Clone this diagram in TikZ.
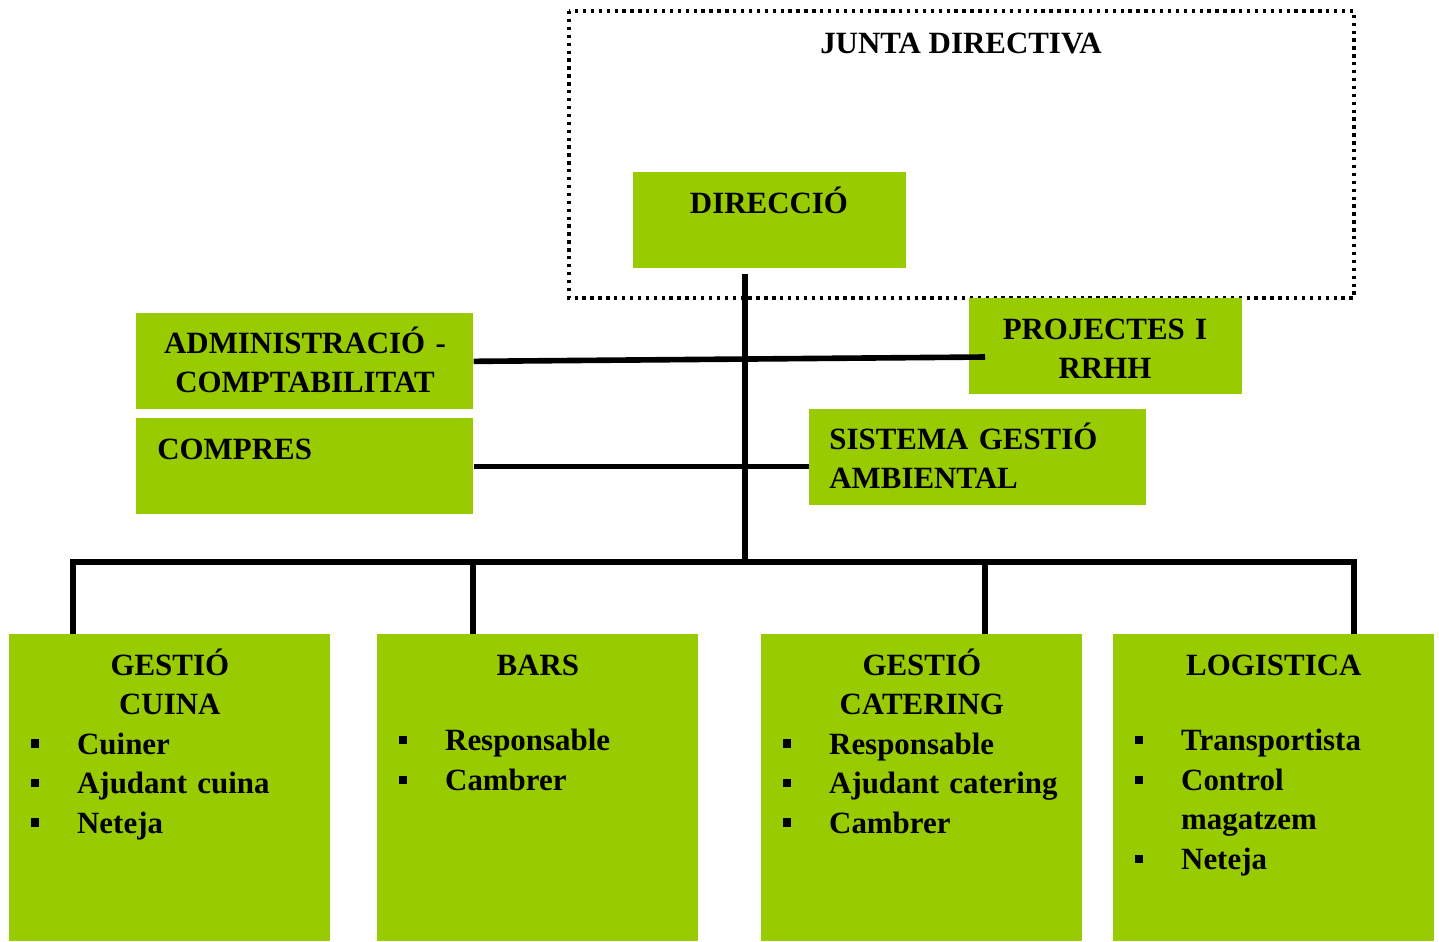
\documentclass[tikz,border=0pt]{standalone}
\usepackage{fontspec}
\setmainfont{Liberation Serif}
\usetikzlibrary{calc}

\definecolor{leaf}{HTML}{99CC00}
\tikzset{
  orgbox/.style={fill=leaf, inner sep=0pt, anchor=north west},
  lbl/.style={font=\bfseries\fontsize{17.6}{22.5}\selectfont, inner sep=0pt},
  conn/.style={line width=3.2pt},
  frame/.style={line width=1.9pt, dash pattern=on 1.9pt off 2.6pt},
}
% bullet item inside the bottom boxes
\newcommand{\bul}[1]{\par\noindent\hspace*{12.3pt}\rule[3.6pt]{4.8pt}{4.8pt}\hspace*{21.5pt}#1}

\begin{document}
\begin{tikzpicture}[x=0.02cm, y=-0.02cm]
  \useasboundingbox (0,0) rectangle (1439,941);

  % Junta directiva
  \draw[frame] (569,11) rectangle (1354,298);
  \node[lbl, anchor=base] (juntatxt) at (961,53) {JUNTA DIRECTIVA};

  % Boxes
  \node[orgbox, minimum width=5.46cm, minimum height=1.92cm] (dir) at (633,172) {};
  \node[orgbox, minimum width=6.74cm, minimum height=1.92cm] (adm) at (136,313) {};
  \node[orgbox, minimum width=5.46cm, minimum height=1.92cm] (rrhh) at (969,298) {};
  \node[orgbox, minimum width=6.74cm, minimum height=1.92cm] (comp) at (136,418) {};
  \node[orgbox, minimum width=6.74cm, minimum height=1.92cm] (sga) at (809,409) {};
  \node[orgbox, minimum width=6.42cm, minimum height=6.14cm] (cuina) at (9,634) {};
  \node[orgbox, minimum width=6.42cm, minimum height=6.14cm] (bars) at (377,634) {};
  \node[orgbox, minimum width=6.42cm, minimum height=6.14cm] (cat) at (761,634) {};
  \node[orgbox, minimum width=6.42cm, minimum height=6.14cm] (log) at (1113,634) {};

  % Labels
  \node[lbl, anchor=base] (dirtxt) at (769,213) {DIRECCIÓ};
  \node[lbl, text width=6.74cm, align=center, anchor=base] (admtxt) at (305,353) {ADMINISTRACIÓ -\\COMPTABILITAT};
  \node[lbl, text width=5.46cm, align=center, anchor=base] (rrhhtxt) at (1105,339) {PROJECTES I\\RRHH};
  \node[lbl, anchor=base west] (comptxt) at (157,459) {COMPRES};
  \node[lbl, text width=6cm, align=left, anchor=base west] (sgatxt) at (829,449) {SISTEMA GESTIÓ\\AMBIENTAL};

  \node[lbl, text width=6.42cm, anchor=base west] (cuinatxt) at (9,675)
    {\centering GESTIÓ\\CUINA\par\raggedright
     \bul{Cuiner}\bul{Ajudant cuina}\bul{Neteja}};
  \node[lbl, text width=6.42cm, anchor=base west] (barstxt) at (377,675)
    {\centering BARS\par\raggedright\vspace{20.6pt}
     \bul{Responsable}\bul{Cambrer}};
  \node[lbl, text width=6.42cm, anchor=base west] (cattxt) at (761,675)
    {\centering GESTIÓ\\CATERING\par\raggedright
     \bul{Responsable}\bul{Ajudant catering}\bul{Cambrer}};
  \node[lbl, text width=6.42cm, anchor=base west] (logtxt) at (1113,675)
    {\centering LOGISTICA\par\raggedright\vspace{20.6pt}
     \bul{Transportista}\bul{Control}\par\noindent\hspace*{38.6pt}magatzem\bul{Neteja}};

  % Connectors
  \coordinate (trunk) at (745,562);
  \coordinate (rrhhin) at (985,357);
  \coordinate (b1) at (73,562);
  \coordinate (b2) at (473,562);
  \coordinate (b3) at (985,562);
  \coordinate (b4) at (1354,562);

  \draw[conn] ($(trunk |- dir.south)+(0,5)$) -- (trunk);
  \draw[conn] (adm.east) -- (rrhhin);
  \draw[conn] (comp.east) -- (sga.west |- comp.east);
  \draw[conn] (b1 |- cuina.north) -- (b1) -- (b4) -- (b4 |- log.north);
  \draw[conn] (b2) -- (b2 |- bars.north);
  \draw[conn] (b3) -- (b3 |- cat.north);
\end{tikzpicture}
\end{document}
